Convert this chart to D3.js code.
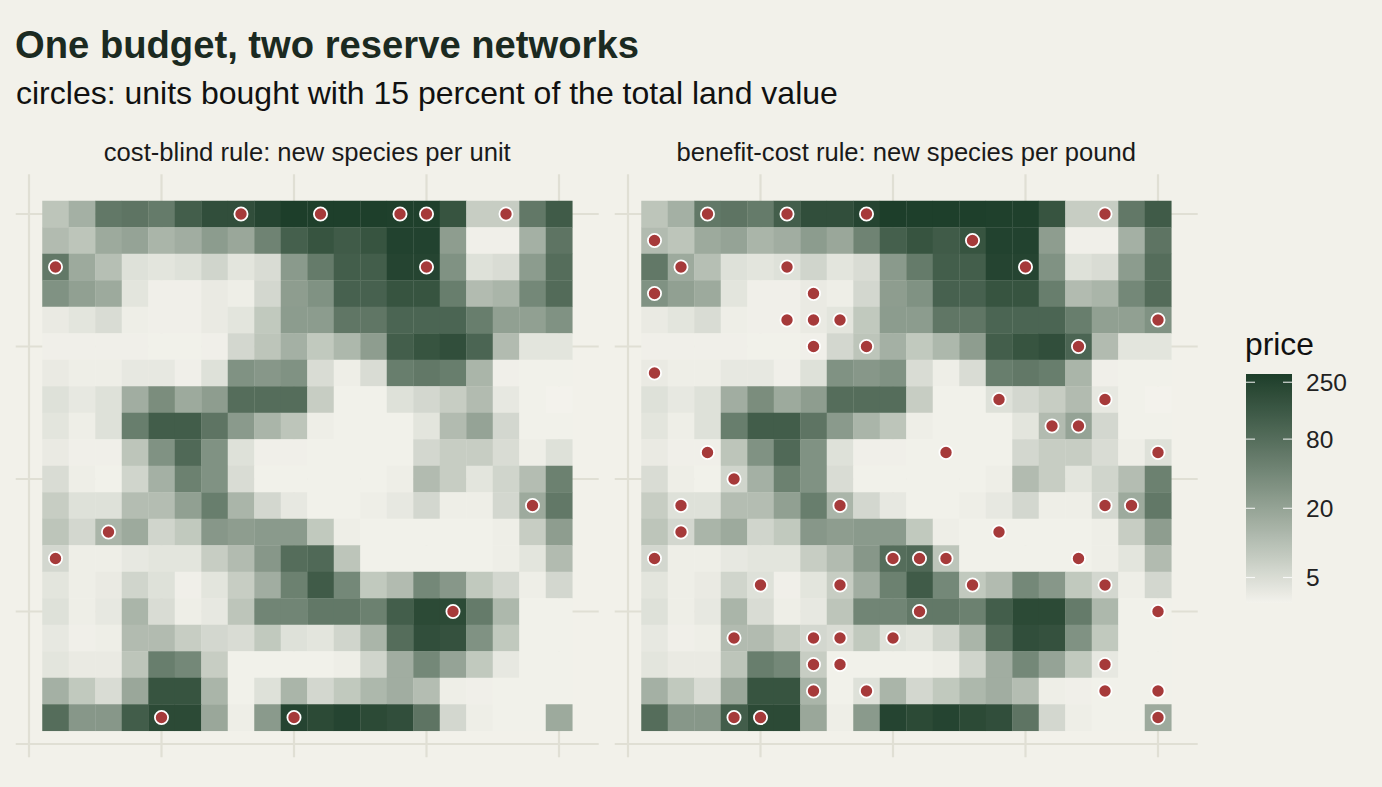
<!DOCTYPE html>
<html><head><meta charset="utf-8">
<script src="https://cdn.jsdelivr.net/npm/d3@7"></script>
<style>body{margin:0;background:#f2f1ea;} svg{display:block;font-family:"Liberation Sans",Arial,Helvetica,sans-serif;}</style>
</head><body><svg id="c" width="1382" height="787"></svg>
<script>
// ---------------- data ----------------
const xCells = d3.range(1, 21);          // columns 1..20
const yCells = d3.range(20, 0, -1);      // rows listed from y=20 (top) down to y=1
const priceRows = [
  [8.8,14.5,60,66,56,120,185,185,245,295, 290,290,285,280,280,160,7.2,7.2,60,130],
  [11,8.8,17,20,13,15.5,24,18,45,115, 160,130,160,260,260,23,3.2,3.2,14.5,66],
  [60,17,10,4.5,4.1,4.5,6,4.1,5,25, 56,120,120,245,245,31,4.5,5,24,80],
  [31,21.5,17,4.1,3.2,3.2,3.6,3.3,5.6,23, 31,110,110,160,160,52,11,13,40,85],
  [3.6,4.1,5,3.3,3.2,3.2,3.6,4.1,8,24, 24,63,63,100,100,100,52,21.5,21.5,31],
  [3.2,3.2,3.2,3.2,3.1,3.1,3.2,5.6,8.8,14.5, 8,12,23,120,160,185,100,11,4.1,4.1],
  [3.6,3.3,3.3,3.8,3.8,3.2,4.5,31,27,31, 5,3.3,5,52,60,52,13,3.2,3.1,3.1],
  [4.5,3.8,4.5,15.5,35,17,23,80,80,80, 7.2,3.1,3.1,4.5,5.6,7.2,11,3.8,3.1,3.0],
  [4.1,3.3,4.5,52,125,125,66,25,13,8.8, 3.3,3.1,3.1,3.1,4.1,11,20,5.6,3.1,3.1],
  [3.6,3.2,3.2,8.8,31,90,31,4.5,3.2,3.2, 3.1,3.1,3.1,3.1,5.6,7.2,7.2,5,3.3,4.5],
  [5,3.3,3.1,6,14.5,48,31,5,3.1,3.1, 3.1,3.1,3.1,3.3,11,7.2,4.1,6,10.5,48],
  [7.2,4.5,4.5,10.5,10.5,21.5,52,13,5.6,3.8, 3.1,3.1,3.3,3.8,5.6,3.3,3.3,5.6,17,60],
  [8.8,5.6,13,17,6,8,27,23,25,25, 8,3.3,3.1,3.1,3.1,3.1,3.1,3.3,7.2,23],
  [5.6,3.3,3.3,3.8,4.1,4.1,7.2,11,27,80, 90,8.8,3.1,3.1,3.1,3.1,3.1,3.3,4.1,11],
  [4.1,3.3,3.6,6,4.5,3.2,4.1,7.2,15.5,48, 130,40,8,11,40,27,8,5.6,3.3,5.6],
  [4.5,3.3,3.8,13,5,3.3,3.8,8.8,43,43, 60,60,48,120,210,210,56,12,3.1,3.1],
  [3.8,3.2,3.3,11,11,7.2,5.6,5,8,4.5, 4.1,6,13,80,185,170,31,8,3.1,3.1],
  [4.1,3.6,3.6,8.8,52,40,7.2,3.1,3.1,3.1, 3.1,3.3,6,15.5,40,20,8,3.8,3.1,3.1],
  [14.5,8,5,18,160,160,13,3.1,4.5,13, 5.6,8,12,15.5,10.5,3.3,3.2,3.1,3.1,3.1],
  [80,27,27,125,210,210,18,3.3,25,245, 210,245,210,185,66,5.6,3.3,3.1,3.1,17]
];
const gridBreaks = [0, 5, 10, 15, 20];
const legendBreaks = [5, 20, 80, 250];
const panelTitles = ["cost-blind rule: new species per unit", "benefit-cost rule: new species per pound"];
const costBlindX = [8,11,14,15,18, 1,15, 19, 3, 1, 16, 5,10];
const costBlindY = [20,20,20,20,20, 18,18, 9, 8, 7, 5, 1,1];
const benefitCostX = [3,6,9,18, 1,13, 2,6,15, 1,7, 6,7,8,20, 7,9,17, 1, 14,18, 16,17, 3,12,20, 4, 2,8,18,19, 2,14, 1,10,11,12,17, 5,8,13,18, 11,20, 4,7,8,10, 7,8,18, 7,9,18,20, 4,5,20];
const benefitCostY = [20,20,20,20, 19,19, 18,18,18, 17,17, 16,16,16,16, 15,15,15, 14, 13,13, 12,12, 11,11,11, 10, 9,9,9,9, 8,8, 7,7,7,7,7, 6,6,6,6, 5,5, 4,4,4,4, 3,3,3, 2,2,2,2, 1,1,1];

// ---------------- drawing ----------------
const BG = "#f2f1ea";
const svg = d3.select("#c");
svg.append("rect").attr("width", 1382).attr("height", 787).attr("fill", BG);

const cells = [];
priceRows.forEach((row, i) => row.forEach((p, j) => cells.push({x: xCells[j], y: yCells[i], price: p})));
const ext = d3.extent(cells, d => d.price);
const color = d3.scaleSequentialLog(d3.interpolateLab("#f3f2ec", "#1d3e2a")).domain(ext);

const yScale = d3.scaleLinear().domain([-0.5, 21.5]).range([757.25, 174.25]);
const panels = [
  {title: panelTitles[0], range: [15.75, 598.75], px: costBlindX, py: costBlindY},
  {title: panelTitles[1], range: [614.75, 1197.75], px: benefitCostX, py: benefitCostY}
];

// title & subtitle
svg.append("text").attr("x", 15).attr("y", 58).attr("font-size", 38.2).attr("font-weight", "bold")
  .attr("fill", "#1b2a21").text("One budget, two reserve networks");
svg.append("text").attr("x", 16).attr("y", 104).attr("font-size", 32).attr("fill", "#111")
  .text("circles: units bought with 15 percent of the total land value");

panels.forEach(p => {
  const xScale = d3.scaleLinear().domain([-0.5, 21.5]).range(p.range);
  const g = svg.append("g");
  // strip
  g.append("text").attr("x", (p.range[0] + p.range[1]) / 2).attr("y", 161).attr("text-anchor", "middle")
    .attr("font-size", 25.6).attr("fill", "#1a1a1a").text(p.title);
  // grid
  g.selectAll(".gx").data(gridBreaks).join("line")
    .attr("x1", d => xScale(d)).attr("x2", d => xScale(d))
    .attr("y1", yScale(-0.5)).attr("y2", yScale(21.5))
    .attr("stroke", "#e0dfd4").attr("stroke-width", 2.2);
  g.selectAll(".gy").data(gridBreaks).join("line")
    .attr("y1", d => yScale(d)).attr("y2", d => yScale(d))
    .attr("x1", xScale(-0.5)).attr("x2", xScale(21.5))
    .attr("stroke", "#e0dfd4").attr("stroke-width", 2.2);
  // tiles
  g.selectAll(".tile").data(cells).join("rect")
    .attr("x", d => xScale(d.x - 0.5)).attr("y", d => yScale(d.y + 0.5))
    .attr("width", d => xScale(d.x + 0.5) - xScale(d.x - 0.5) + 0.3)
    .attr("height", d => yScale(d.y - 0.5) - yScale(d.y + 0.5) + 0.3)
    .attr("fill", d => color(d.price));
  // circles
  const pts = p.px.map((x, i) => ({x, y: p.py[i]}));
  g.selectAll(".pt").data(pts).join("circle")
    .attr("cx", d => xScale(d.x)).attr("cy", d => yScale(d.y)).attr("r", 6.6)
    .attr("fill", "#a63a3a").attr("stroke", "#ffffff").attr("stroke-width", 1.8);
});

// legend
const lx = 1246, lw = 46, ltop = 374, lbot = 603;
const ls = d3.scaleLog().domain(ext).range([lbot, ltop]);
const defs = svg.append("defs");
const grad = defs.append("linearGradient").attr("id", "lg").attr("x1", 0).attr("x2", 0).attr("y1", 1).attr("y2", 0);
d3.range(0, 1.0001, 0.02).forEach(t => {
  const v = Math.exp(Math.log(ext[0]) + t * (Math.log(ext[1]) - Math.log(ext[0])));
  grad.append("stop").attr("offset", t).attr("stop-color", color(v));
});
svg.append("text").attr("x", 1245).attr("y", 355).attr("font-size", 31.8).attr("fill", "#111").text("price");
svg.append("rect").attr("x", lx).attr("y", ltop).attr("width", lw).attr("height", lbot - ltop).attr("fill", "url(#lg)");
legendBreaks.forEach(b => {
  const y = ls(b);
  svg.append("line").attr("x1", lx).attr("x2", lx + 9).attr("y1", y).attr("y2", y).attr("stroke", "#fff").attr("stroke-width", 1.2).attr("opacity", 0.8);
  svg.append("line").attr("x1", lx + lw - 9).attr("x2", lx + lw).attr("y1", y).attr("y2", y).attr("stroke", "#fff").attr("stroke-width", 1.2).attr("opacity", 0.8);
  svg.append("text").attr("x", 1306).attr("y", y).attr("dy", "0.36em").attr("font-size", 24.5).attr("fill", "#222").text(b);
});
</script></body></html>
